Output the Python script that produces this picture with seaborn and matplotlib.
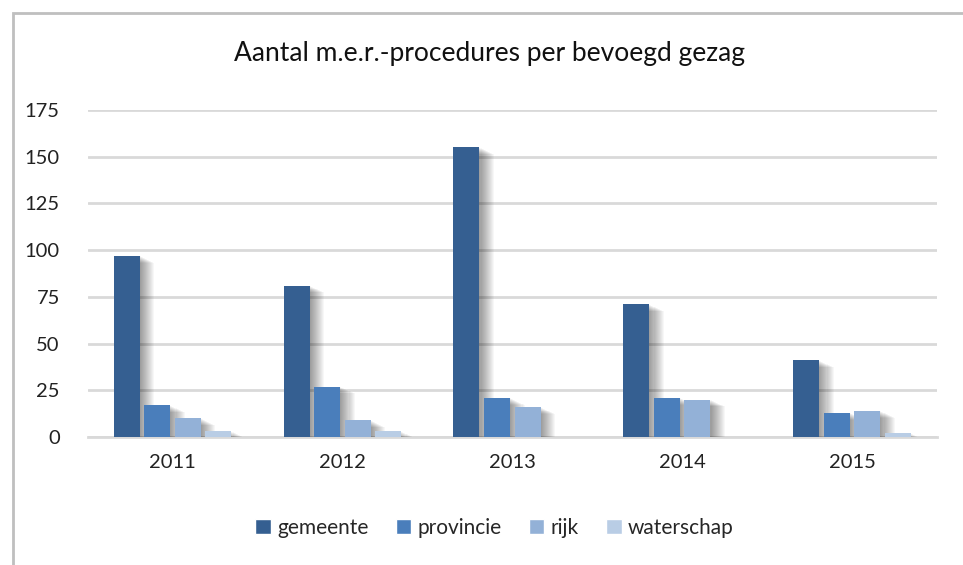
import pandas as pd
import numpy as np
import matplotlib.pyplot as plt
import matplotlib.patheffects as pe
from matplotlib.patches import Patch
import seaborn as sns

sns.set_theme(style="white")
plt.rcParams['font.family'] = ['Lato', 'DejaVu Sans']

# data
years = ['2011', '2012', '2013', '2014', '2015']
gemeente = [97, 81, 155, 71, 41]
provincie = [17, 27, 21, 21, 13]
rijk = [10, 9, 16, 20, 14]
waterschap = [3, 3, 0, 0, 2]
series = ['gemeente', 'provincie', 'rijk', 'waterschap']
colors = ['#355F91', '#4A7EBB', '#93B1D7', '#B9CDE5']

df = pd.DataFrame({'jaar': years, 'gemeente': gemeente, 'provincie': provincie,
                   'rijk': rijk, 'waterschap': waterschap})
long = df.melt(id_vars='jaar', var_name='gezag', value_name='aantal')

fig = plt.figure(figsize=(9.63, 5.65), dpi=100)
ax = fig.add_axes([0.091, 0.2265, 0.882, 0.579])

sns.barplot(data=long, x='jaar', y='aantal', hue='gezag', hue_order=series,
            palette=colors, width=0.72, gap=0.15, ax=ax, saturation=1,
            legend=False, linewidth=0)

# soft shadow to the right of the bars, like the Excel original
shadow = [pe.SimplePatchShadow(offset=(o * 0.75, -o * 0.35), shadow_rgbFace='black', alpha=0.03)
          for o in range(1, 15)]
for bar in ax.patches:
    bar.set_path_effects(shadow + [pe.Normal()])
    bar.set_zorder(3)

ax.set_ylim(0, 175)
ax.set_yticks(np.arange(0, 176, 25))
ax.set_xlim(-0.5, 4.5)
ax.yaxis.grid(True, color='#d9d9d9', linewidth=2)
ax.set_axisbelow(True)
for s in ['top', 'right', 'left']:
    ax.spines[s].set_visible(False)
ax.spines['bottom'].set_color('#d9d9d9')
ax.spines['bottom'].set_linewidth(2)
ax.tick_params(axis='both', length=0, labelsize=14.5, colors='#222222')
ax.tick_params(axis='x', pad=12)
ax.tick_params(axis='y', pad=20)
ax.set_xlabel('')
ax.set_ylabel('')

fig.text(0.508, 0.905, 'Aantal m.e.r.-procedures per bevoegd gezag',
         ha='center', va='center', fontsize=19, color='#111111')

handles = [Patch(facecolor=c, label=s) for c, s in zip(colors, series)]
ax.legend(handles=handles, loc='center', bbox_to_anchor=(0.479, -0.278), ncol=4,
          frameon=False, fontsize=15, handlelength=0.75, handleheight=0.75,
          handletextpad=0.3, columnspacing=1.3)

# chart border
fig.add_artist(plt.Rectangle((13 / 963, -0.05), 1.0, 1 - 13 / 565 + 0.05,
                             transform=fig.transFigure, fill=False,
                             edgecolor='#bfbfbf', linewidth=2))

fig.savefig('out.png', dpi=100)
